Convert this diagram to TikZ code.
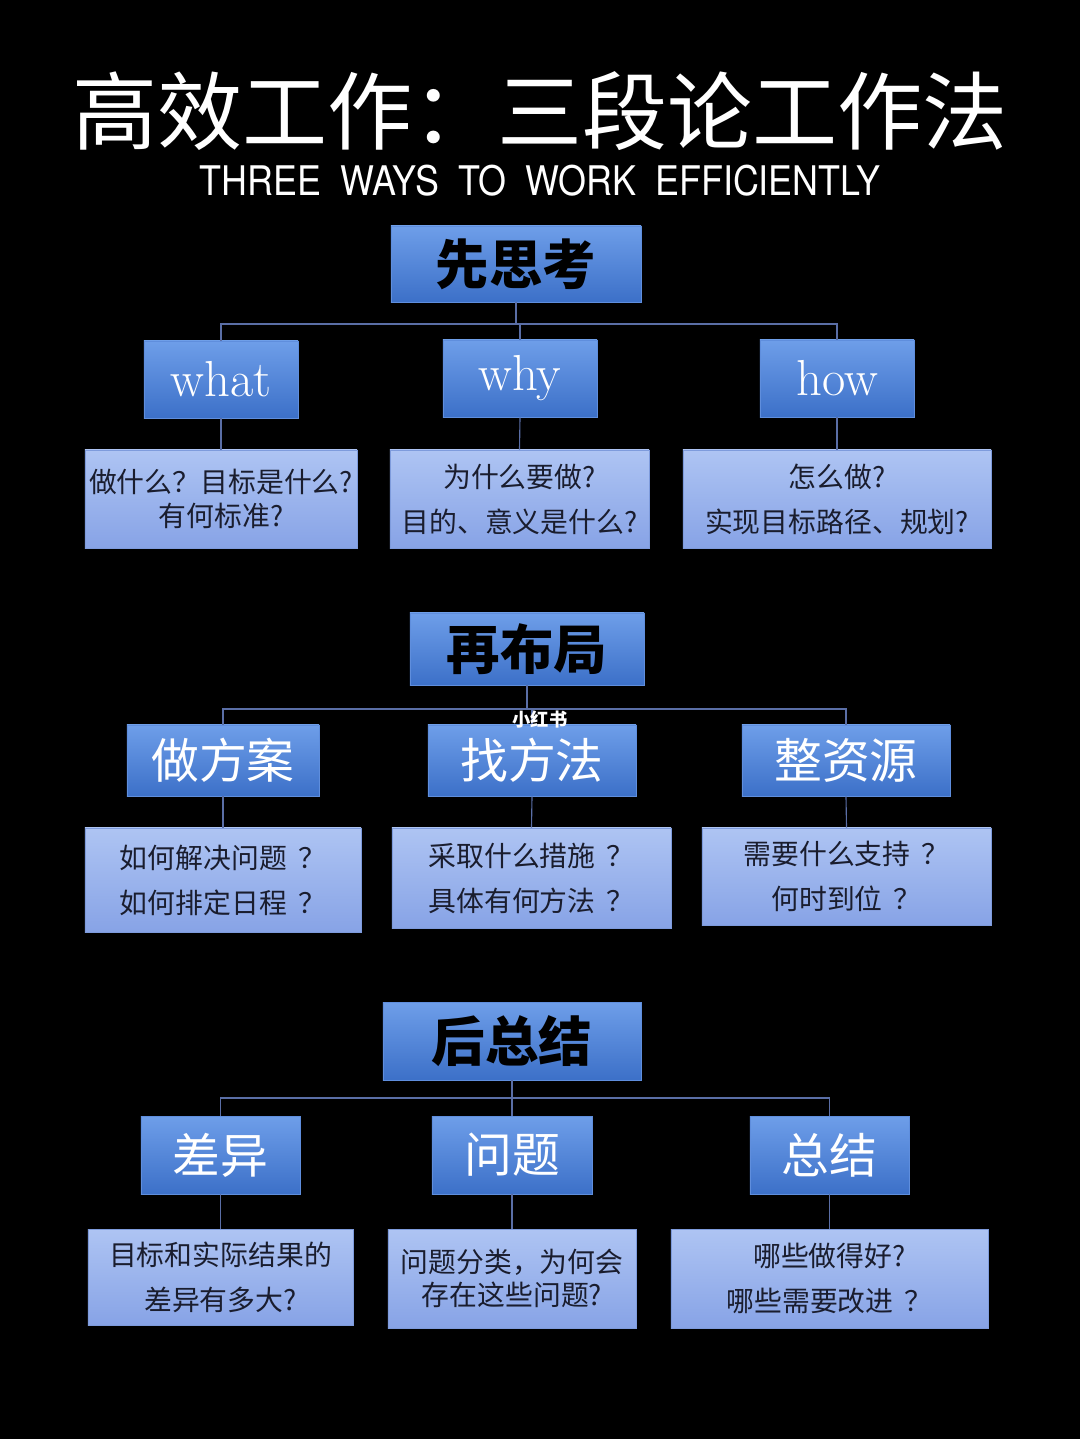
\documentclass[tikz,border=0pt]{standalone}
\usepackage{fontspec}
\usepackage{graphicx}
\usepackage{tikz}
\newfontfamily\cjk{Noto Sans CJK SC}
\newfontfamily\heros[WordSpace=1.9]{TeX Gyre Heros}
\definecolor{hdtop}{HTML}{6E9EE9}
\definecolor{hdbot}{HTML}{3C70C8}
\definecolor{hdline}{HTML}{5F8EDD}
\definecolor{dstop}{HTML}{AEC4F3}
\definecolor{dsbot}{HTML}{87A3E6}
\definecolor{dsline}{HTML}{7E9BDC}
\definecolor{wire}{HTML}{5A6EA6}
\definecolor{ink}{HTML}{1A1D2E}
\newcommand{\qgap}{\hspace{0.4em}}
\begin{document}
\begin{tikzpicture}[x=0.025cm, y=-0.025cm,
  head/.style={draw=hdline, line width=0.6pt, top color=hdtop, bottom color=hdbot,
               inner sep=0pt, text=black, font=\cjk\bfseries\fontsize{38}{44}\selectfont},
  sub/.style={draw=hdline, line width=0.6pt, top color=hdtop, bottom color=hdbot,
              inner sep=0pt, text=white, font=\cjk\fontsize{34}{40}\selectfont},
  subrm/.style={sub, font=\fontsize{36}{40}\selectfont},
  desc/.style={draw=dsline, line width=0.6pt, top color=dstop, bottom color=dsbot,
               inner sep=0pt, align=center, text=ink,
               font=\cjk\fontsize{19.8}{32}\selectfont},
  link/.style={draw=wire, line width=0.8pt}]
  \fill[black] (0,0) rectangle (1080,1439);
  \useasboundingbox (0,0) rectangle (1080,1439);
  % title
  \node[text=white, font=\cjk\fontsize{60.5}{64}\selectfont] (title) at (540,111)
    {高效工作：三段论工作法};
  \node[text=white, font=\heros\fontsize{29}{32}\selectfont] (subtitle) at (540,181)
    {\scalebox{0.88}[1]{THREE WAYS TO WORK EFFICIENTLY}};
  % part one
  \node[head, minimum width=6.25cm, minimum height=1.9cm] (h1) at (516,264) {先思考};
  \node[subrm, minimum width=3.85cm, minimum height=1.925cm] (a1) at (221,379.5) {what};
  \node[subrm, minimum width=3.85cm, minimum height=1.925cm] (b1) at (520,378.5) {why};
  \node[subrm, minimum width=3.85cm, minimum height=1.925cm] (c1) at (837,378.5) {how};
  \node[desc, minimum width=6.8cm, minimum height=2.45cm] (da1) at (221,499)
    {做什么？目标是什么?\\[-8pt]有何标准?};
  \node[desc, minimum width=6.475cm, minimum height=2.45cm] (db1) at (519.5,499)
    {为什么要做?\\目的、意义是什么?};
  \node[desc, minimum width=7.7cm, minimum height=2.45cm] (dc1) at (837,499)
    {怎么做?\\实现目标路径、规划?};
  \coordinate (bus1) at (516,324);
  \draw[link] (h1.south) -- (bus1);
  \draw[link] (a1.north) |- (bus1) -| (c1.north);
  \draw[link] (b1.north) -- (b1.north |- bus1);
  \draw[link] (a1.south) -- (da1.north);
  \draw[link] (b1.south) -- (db1.north);
  \draw[link] (c1.south) -- (dc1.north);
  % part two
  \node[head, minimum width=5.85cm, minimum height=1.8cm] (h2) at (527,649) {再布局};
  \node[sub, minimum width=4.8cm, minimum height=1.775cm] (a2) at (223,760.5) {做方案};
  \node[sub, minimum width=5.2cm, minimum height=1.775cm] (b2) at (532,760.5) {找方法};
  \node[sub, minimum width=5.2cm, minimum height=1.775cm] (c2) at (846,760.5) {整资源};
  \node[desc, minimum width=6.9cm, minimum height=2.6cm] (da2) at (223,880)
    {如何解决问题\qgap？\\如何排定日程\qgap？};
  \node[desc, minimum width=6.975cm, minimum height=2.5cm] (db2) at (531.5,878)
    {采取什么措施\qgap？\\具体有何方法\qgap？};
  \node[desc, minimum width=7.225cm, minimum height=2.425cm] (dc2) at (846.5,876.5)
    {需要什么支持\qgap？\\何时到位\qgap？};
  \coordinate (bus2) at (527,709);
  \draw[link] (h2.south) -- (bus2);
  \draw[link] (a2.north) |- (bus2) -| (c2.north);
  \draw[link] (b2.north) -- (b2.north |- bus2);
  \draw[link] (a2.south) -- (da2.north);
  \draw[link] (b2.south) -- (db2.north);
  \draw[link] (c2.south) -- (dc2.north);
  % part three
  \node[head, minimum width=6.45cm, minimum height=1.95cm] (h3) at (512,1041) {后总结};
  \node[sub, minimum width=3.975cm, minimum height=1.95cm] (a3) at (220.5,1155) {差异};
  \node[sub, minimum width=4cm, minimum height=1.95cm] (b3) at (512,1155) {问题};
  \node[sub, minimum width=3.975cm, minimum height=1.95cm] (c3) at (829.5,1155) {总结};
  \node[desc, minimum width=6.625cm, minimum height=2.4cm] (da3) at (220.5,1277)
    {目标和实际结果的\\差异有多大?};
  \node[desc, minimum width=6.2cm, minimum height=2.475cm] (db3) at (512,1278.5)
    {问题分类，为何会\\[-8pt]存在这些问题?};
  \node[desc, minimum width=7.925cm, minimum height=2.475cm] (dc3) at (829.5,1278.5)
    {哪些做得好?\\哪些需要改进\qgap？};
  \coordinate (bus3) at (512,1098);
  \draw[link] (h3.south) -- (bus3);
  \draw[link] (a3.north) |- (bus3) -| (c3.north);
  \draw[link] (b3.north) -- (b3.north |- bus3);
  \draw[link] (a3.south) -- (da3.north);
  \draw[link] (b3.south) -- (db3.north);
  \draw[link] (c3.south) -- (dc3.north);
  % watermark
  \node[text=white, font=\cjk\bfseries\fontsize{13}{14}\selectfont] (mark) at (540,719) {小红书};
\end{tikzpicture}
\end{document}
